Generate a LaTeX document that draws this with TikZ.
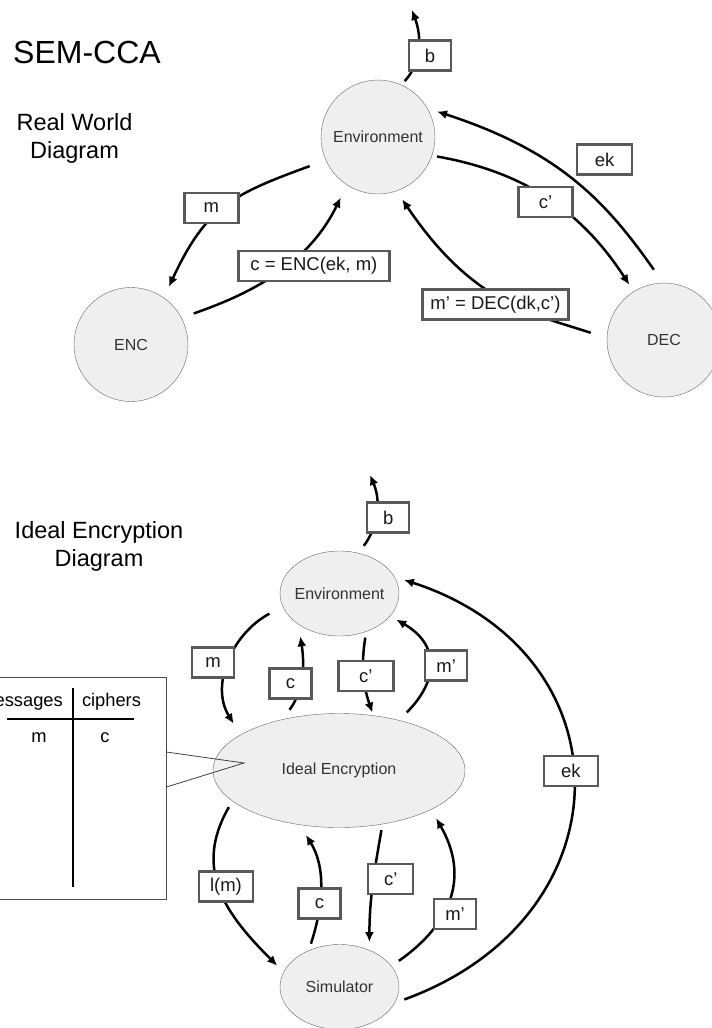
\documentclass[tikz,border=0pt]{standalone}
\usepackage{fontspec}
\setmainfont{Liberation Sans}
\usepackage{tikz}
\usetikzlibrary{arrows.meta,shapes.geometric}
\definecolor{partyfill}{HTML}{EFEFEF}
\newcommand\partyfont{\fontsize{16}{19}\selectfont}
\newcommand\msgfont{\fontsize{18.5}{21}\selectfont}
\newcommand\headfont{\fontsize{23.5}{28}\selectfont}
\newcommand\titlefont{\fontsize{32}{38}\selectfont}
\newcommand\cellfont{\fontsize{18.3}{22}\selectfont}
\tikzset{party/.style={circle,draw=black!60,fill=partyfill,text=black!80,font=\partyfont,minimum size=114pt,inner sep=0pt} }
\tikzset{oval/.style={party,ellipse} }
\tikzset{msg/.style={draw=black!65,fill=white,text=black!90,font=\msgfont,minimum height=30pt,minimum width=42pt,inner xsep=8pt,inner ysep=0pt} }
\tikzset{flow/.style 2 args={line width=2.5pt,-{Latex[length=10pt,width=9pt]},shorten <=#1,shorten >=#2} }
\tikzset{cell/.style={inner sep=0pt,font=\cellfont} }

\begin{document}
\begin{tikzpicture}[x=1pt,y=1pt]
    \useasboundingbox (0,0) rectangle (712,-1028);
    \clip (0,0) rectangle (712,-1028);

    % real world
    \node[anchor=base west,inner sep=0pt,font=\titlefont] (title) at (13,-63) {SEM-CCA};
    \node[align=center,font=\headfont] (realhd) at (74.5,-138) {Real World\\Diagram};
    \node[party] (env) at (378,-137) {Environment};
    \node[party] (enc) at (131,-344.5) {ENC};
    \node[party] (dec) at (664,-340) {DEC};
    \coordinate (bout) at (412,-10);
    \draw[flow={5pt}{0pt}] (env.66) to[out=47,in=-70] node[msg,pos=.42,xshift=13pt] {b} (bout);
    \draw[flow={16pt}{10pt}] (dec.91) to[out=125,in=-18,out looseness=.88,in looseness=1.2] node[msg,pos=.5,xshift=32pt,yshift=21pt,minimum width=55pt] {ek} (env.30);
    \draw[flow={5pt}{8pt}] (env.-19) to[out=-10,in=123] node[msg,pos=.5,xshift=-3pt,yshift=-2pt,minimum width=54pt] {c'} (dec.122);
    \draw[flow={17pt}{10pt}] (dec.178) to[out=162,in=-56,out looseness=.8,in looseness=1.35] node[msg,pos=.5,xshift=-6pt,yshift=-7pt] {m' = DEC(dk,c')} (env.-71);
    \draw[flow={13pt}{14pt}] (enc.28) to[out=19,in=244] node[msg,pos=.55,xshift=26pt,yshift=-3pt,minimum width=151pt] {c = ENC(ek, m)} (env.237);
    \draw[flow={17pt}{12pt}] (env.204) to[out=200,in=65,looseness=1.2] node[msg,pos=.5,xshift=-14pt,minimum width=54pt] {m} (enc.55);

    % ideal encryption
    \node[align=center,font=\headfont] (idealhd) at (99,-546) {Ideal Encryption\\Diagram};
    \node[oval,minimum width=119pt,minimum height=85pt,inner xsep=-4pt] (env2) at (339.5,-593.5) {Environment};
    \node[oval,minimum width=252pt,minimum height=114pt] (ideal) at (339,-770.5) {Ideal Encryption};
    \node[oval,minimum width=119pt,minimum height=85pt] (sim) at (339.5,-987) {Simulator};
    \coordinate (bout2) at (370,-475);
    \draw[flow={9pt}{0pt}] (env2.65) to[out=53,in=-67] node[msg,pos=.47,xshift=13pt] {b} (bout2);
    \draw[flow={15pt}{13pt}] (env2.193) to[out=208,in=122,looseness=1.1] node[msg,pos=.5,xshift=-18pt,yshift=0pt] {m} (ideal.160);
    \draw[flow={12pt}{12pt}] (ideal.138) to[out=53,in=-81] node[msg,pos=.4,xshift=-9pt] {c} (env2.217);
    \draw[flow={6pt}{3pt}] (env2.-55.6) to[out=-99,in=109] node[msg,pos=.5,xshift=2pt,yshift=-2pt,minimum width=55pt] {c'} (ideal.58);
    \draw[flow={11pt}{7pt}] (ideal.40.5) to[out=45,in=-30,looseness=1.4] node[msg,pos=.5,xshift=18pt,yshift=-2pt] {m'} (env2.-24);
    \draw[flow={10pt}{10pt}] (sim.-16) to[out=20,in=-18,looseness=1.5] node[msg,pos=.53,minimum width=54pt] {ek} (env2.17);
    \draw[flow={7pt}{9pt}] (ideal.196) to[out=240,in=135,looseness=1.15] node[msg,pos=.47,xshift=6pt,minimum width=54pt] {l(m)} (sim.165);
    \draw[flow={7pt}{12pt}] (sim.130) to[out=72,in=-58] node[msg,pos=.39,yshift=-4pt] {c} (ideal.234);
    \draw[flow={6pt}{8pt}] (ideal.-51.5) to[out=-100,in=90] node[msg,pos=.43,xshift=17pt,minimum width=45pt] {c'} (sim.51.7);
    \draw[flow={9pt}{10pt}] (sim.22) to[out=35,in=-60,looseness=1.2] node[msg,pos=.4,xshift=12pt,yshift=-3pt] {m'} (ideal.-23.6);

    % lookup table of the ideal functionality
    \node[draw=black!70,line width=0.8pt,minimum width=171pt,minimum height=222pt,inner sep=0pt] (tbl) at (80.5,-788) {};
    \draw[line width=2.4pt] (72.7,-688) -- (72.7,-887);
    \draw[line width=2.4pt] (7,-719) -- (134,-719);
    \node[cell,anchor=base east] (hmsg) at (63,-706) {Messages};
    \node[cell,anchor=base] (hciph) at (111.5,-706) {ciphers};
    \node[cell,anchor=base] (cellm) at (39,-742) {m};
    \node[cell,anchor=base] (cellc) at (105,-742) {c};
    \coordinate (ptr) at (244,-763);
    \draw[line width=0.8pt,black!75] ([yshift=36pt]tbl.east) -- (ptr) -- ([yshift=1pt]tbl.east);
\end{tikzpicture}
\end{document}
